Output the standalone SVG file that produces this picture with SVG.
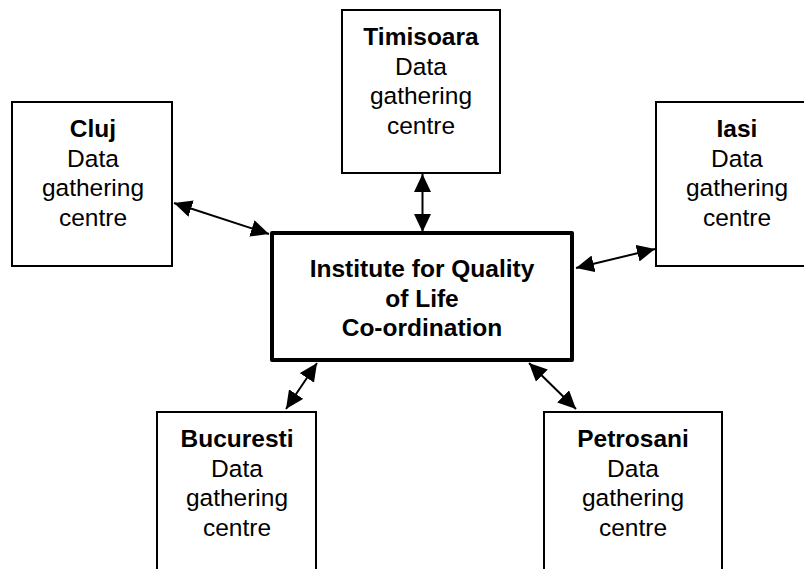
<svg xmlns="http://www.w3.org/2000/svg" width="804" height="569" viewBox="0 0 804 569">
<style>
  .box { fill: #ffffff; stroke: #000000; stroke-width: 2; }
  .main { fill: #ffffff; stroke: #000000; stroke-width: 4; stroke-linejoin: round; }
  text { font-family: "Liberation Sans", Arial, sans-serif; font-size: 24.5px; fill: #000000; text-anchor: middle; }
  .b { font-weight: bold; }
  .conn { stroke: #000000; stroke-width: 2; fill: none; marker-start: url(#ah); marker-end: url(#ah); }
</style>
<defs>
  <marker id="ah" viewBox="0 0 18 17" refX="18" refY="8.5" markerWidth="18" markerHeight="17" markerUnits="userSpaceOnUse" orient="auto-start-reverse">
    <path d="M0,0 L18,8.5 L0,17 z" fill="#000000"/>
  </marker>
</defs>
<rect width="804" height="569" fill="#ffffff"/>

<g id="timisoara">
  <rect class="box" x="342" y="10" width="158" height="163"/>
  <text x="421" y="45" class="b">Timisoara</text>
  <text x="421" y="74.5">Data</text>
  <text x="421" y="104">gathering</text>
  <text x="421" y="133.5">centre</text>
</g>

<g id="cluj">
  <rect class="box" x="12" y="102" width="160" height="164"/>
  <text x="93" y="137" class="b">Cluj</text>
  <text x="93" y="166.5">Data</text>
  <text x="93" y="196">gathering</text>
  <text x="93" y="225.5">centre</text>
</g>

<g id="iasi">
  <rect class="box" x="656" y="102" width="160" height="164"/>
  <text x="737" y="137" class="b">Iasi</text>
  <text x="737" y="166.5">Data</text>
  <text x="737" y="196">gathering</text>
  <text x="737" y="225.5">centre</text>
</g>

<g id="institute">
  <rect class="main" x="272" y="233" width="300" height="127"/>
  <text x="422" y="277" class="b">Institute for Quality</text>
  <text x="422" y="306.5" class="b">of Life</text>
  <text x="422" y="336" class="b">Co-ordination</text>
</g>

<g id="bucuresti">
  <rect class="box" x="157" y="412" width="159" height="200"/>
  <text x="237" y="447" class="b">Bucuresti</text>
  <text x="237" y="476.5">Data</text>
  <text x="237" y="506">gathering</text>
  <text x="237" y="535.5">centre</text>
</g>

<g id="petrosani">
  <rect class="box" x="544" y="412" width="178" height="200"/>
  <text x="633" y="447" class="b">Petrosani</text>
  <text x="633" y="476.5">Data</text>
  <text x="633" y="506">gathering</text>
  <text x="633" y="535.5">centre</text>
</g>

<g id="connectors">
  <line class="conn" x1="174" y1="203" x2="269" y2="234"/>
  <line class="conn" x1="422.5" y1="174" x2="422.5" y2="232"/>
  <line class="conn" x1="576" y1="268" x2="655" y2="249"/>
  <line class="conn" x1="317" y1="363" x2="286" y2="409"/>
  <line class="conn" x1="529" y1="363" x2="576" y2="409"/>
</g>
</svg>
